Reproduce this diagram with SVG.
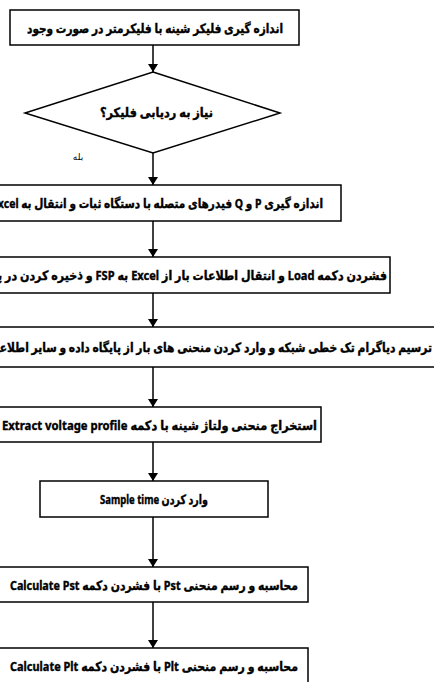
<svg xmlns="http://www.w3.org/2000/svg" width="434" height="682" viewBox="0 0 434 682">
<style>
.box{fill:#fff;stroke:#000;stroke-width:1.5}
.t{font-family:"Noto Sans","DejaVu Sans",sans-serif;font-weight:bold;font-size:13px;fill:#000;stroke:#000;stroke-width:0.4;direction:rtl;text-anchor:middle;dominant-baseline:central}
.lbl{font-family:"DejaVu Sans",sans-serif;font-size:9px;fill:#000}
.c{stroke:#000;stroke-width:1.5;fill:none;marker-end:url(#ah)}
</style>
<defs>
<marker id="ah" markerWidth="8" markerHeight="10" refX="8" refY="5" orient="auto" markerUnits="userSpaceOnUse" viewBox="0 0 8 10">
<path d="M0,0 L8,5 L0,10 Z" fill="#000"/>
</marker>
</defs>
<rect width="434" height="682" fill="#fff"/>
<g id="connectors">
<line class="c" x1="153" y1="45" x2="153" y2="72"/>
<line class="c" x1="153" y1="153" x2="153" y2="185"/>
<line class="c" x1="153" y1="221" x2="153" y2="257"/>
<line class="c" x1="153" y1="293" x2="153" y2="327"/>
<line class="c" x1="153" y1="367" x2="153" y2="407"/>
<line class="c" x1="153" y1="442" x2="153" y2="481"/>
<line class="c" x1="153" y1="517" x2="153" y2="567"/>
<line class="c" x1="153" y1="602" x2="153" y2="648"/>
<text class="lbl" x="78" y="160" direction="rtl" text-anchor="middle">بله</text>
</g>
<g id="n1">
<rect class="box" x="10" y="10" width="289" height="35"/>
<text class="t" x="155" y="28" textLength="256" lengthAdjust="spacingAndGlyphs">اندازه گیری فلیکر شینه با فلیکرمتر در صورت وجود</text>
</g>
<g id="n2">
<polygon class="box" points="153,72 280,113 153,153 25,113"/>
<text class="t" x="156.5" y="112" textLength="113" lengthAdjust="spacingAndGlyphs">نیاز به ردیابی فلیکر؟</text>
</g>
<g id="n3">
<rect class="box" x="-40" y="185" width="381" height="36"/>
<text class="t" x="157.5" y="203" textLength="331" lengthAdjust="spacingAndGlyphs">اندازه گیری P و Q فیدرهای متصله با دستگاه ثبات و انتقال به Excel</text>
</g>
<g id="n4">
<rect class="box" x="-90" y="257" width="480" height="36"/>
<text class="t" x="192.5" y="275" textLength="389" lengthAdjust="spacingAndGlyphs">فشردن دکمه Load و انتقال اطلاعات بار از Excel به FSP و ذخیره کردن در پ‍</text>
</g>
<g id="n5">
<rect class="box" x="-20" y="327" width="480" height="40"/>
<text class="t" x="208.5" y="347" textLength="447" lengthAdjust="spacingAndGlyphs">ترسیم دیاگرام تک خطی شبکه و وارد کردن منحنی های بار از پایگاه داده و سایر اطلاعات</text>
</g>
<g id="n6">
<rect class="box" x="-15" y="407" width="336" height="35"/>
<text class="t" x="159.5" y="424.5" textLength="315" lengthAdjust="spacingAndGlyphs">استخراج منحنی ولتاژ شینه با دکمه Extract voltage profile</text>
</g>
<g id="n7">
<rect class="box" x="40" y="481" width="228" height="36"/>
<text class="t" x="154" y="499" textLength="108" lengthAdjust="spacingAndGlyphs">وارد کردن Sample time</text>
</g>
<g id="n8">
<rect class="box" x="-2" y="567" width="310" height="35"/>
<text class="t" x="154" y="584.5" textLength="288" lengthAdjust="spacingAndGlyphs">محاسبه و رسم منحنی Pst با فشردن دکمه Calculate Pst</text>
</g>
<g id="n9">
<rect class="box" x="-2" y="648" width="310" height="50"/>
<text class="t" x="154" y="666" textLength="288" lengthAdjust="spacingAndGlyphs">محاسبه و رسم منحنی Plt با فشردن دکمه Calculate Plt</text>
</g>
</svg>
